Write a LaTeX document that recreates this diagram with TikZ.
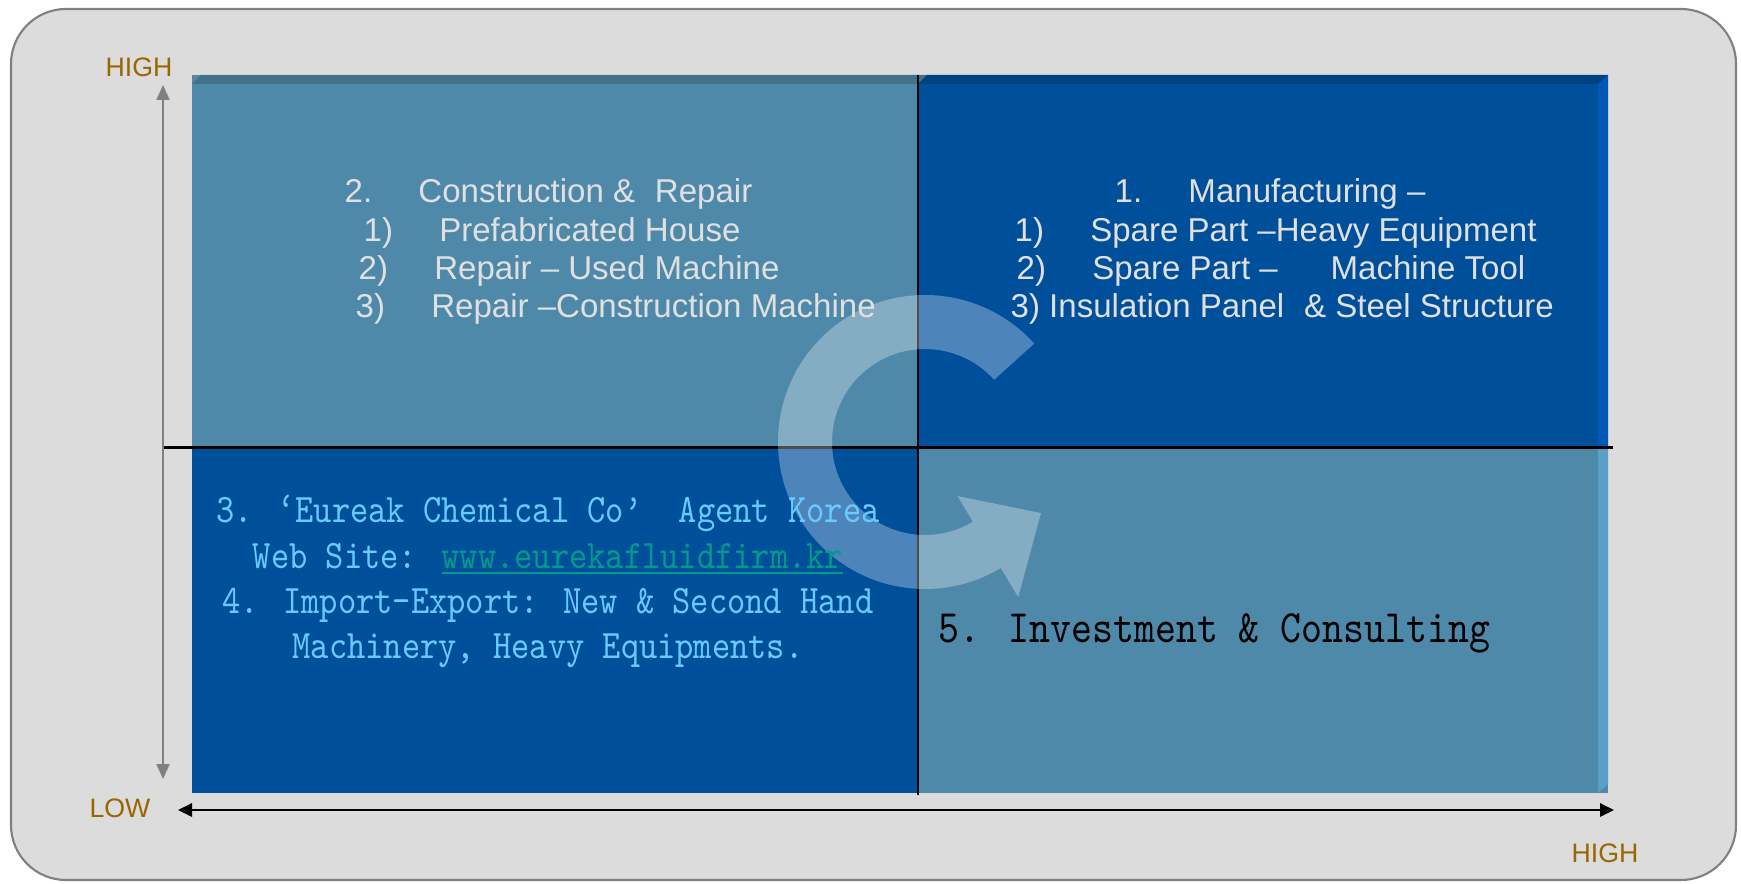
\documentclass[tikz,border=0pt]{standalone}
\usepackage{fontspec}
\usetikzlibrary{arrows.meta}
\newfontfamily\gulimfont{Liberation Sans}
\newfontfamily\gungfont[FakeStretch=0.86]{lmmono10-regular.otf}
\definecolor{frameGray}{HTML}{DCDCDC}
\definecolor{cellLight}{HTML}{4F89AA}
\definecolor{cellDark}{HTML}{004F9B}
\definecolor{bevelLight}{HTML}{43708B}
\definecolor{bevelDark}{HTML}{00417F}
\definecolor{sideDark}{HTML}{0058B5}
\definecolor{sideLight}{HTML}{5B9EC8}
\definecolor{axisBrown}{HTML}{996600}
\definecolor{menuGray}{HTML}{E0E0E0}
\definecolor{agentCyan}{HTML}{66CCFF}
\definecolor{linkTeal}{HTML}{009B8C}
\begin{document}
\begin{tikzpicture}[
    menutext/.style={anchor=base west, inner sep=0pt, text=menuGray, font=\gulimfont\fontsize{9.4}{11}\selectfont},
    agenttext/.style={anchor=base, inner sep=0pt, text=agentCyan, font=\gungfont\fontsize{11.5}{13}\selectfont},
    axislabel/.style={inner sep=0pt, text=axisBrown, font=\gulimfont\fontsize{7.6}{9}\selectfont}
]
    \useasboundingbox (0,0) rectangle (17.41,8.83);
    \draw[fill=frameGray, draw=gray, line width=0.6pt, rounded corners=0.55cm] (0.11,0.03) rectangle (17.36,8.74);

    % quadrants
    \fill[cellLight] (1.92,4.355) rectangle (9.18,8.08);
    \fill[cellDark] (9.18,4.355) rectangle (16.08,8.08);
    \fill[cellDark] (1.92,0.90) rectangle (9.18,4.355);
    \fill[cellLight] (9.18,0.90) rectangle (16.08,4.355);

    % bevels
    \fill[bevelLight] (1.92,7.99) -- (2.01,8.08) -- (9.27,8.08) -- (9.18,7.99) -- cycle;
    \fill[bevelDark] (9.18,7.99) -- (9.27,8.08) -- (16.08,8.08) -- (15.98,7.99) -- cycle;
    \fill[sideDark] (15.98,7.99) -- (16.08,8.08) -- (16.08,4.355) -- (15.98,4.355) -- cycle;
    \fill[sideLight] (15.98,4.355) -- (16.08,4.355) -- (16.08,0.99) -- (15.98,0.90) -- cycle;

    % dividers
    \coordinate (hl) at (1.63,4.355);
    \coordinate (hr) at (16.13,4.355);
    \coordinate (vt) at (9.18,8.08);
    \coordinate (vb) at (9.18,0.88);
    \draw[line width=0.6pt] (hl) -- (hr);
    \draw[line width=0.6pt] (vt) -- (vb);

    % axes
    \coordinate (ytop) at (1.63,7.98);
    \coordinate (ybot) at (1.63,1.04);
    \coordinate (xleft) at (1.78,0.73);
    \coordinate (xright) at (16.14,0.73);
    \draw[{Triangle[length=0.15cm,width=0.13cm]}-{Triangle[length=0.15cm,width=0.13cm]}, gray, line width=0.6pt] (ybot) -- (ytop);
    \draw[{Triangle[length=0.14cm,width=0.13cm]}-{Triangle[length=0.14cm,width=0.13cm]}, line width=0.85pt] (xleft) -- (xright);

    \node[axislabel] (yhigh) at (1.39,8.16) {HIGH};
    \node[axislabel] (xlow) at (1.20,0.75) {LOW};
    \node[axislabel] (xhigh) at (16.05,0.30) {HIGH};

    % cycle arrow
    \fill[white, opacity=0.3, shift={(9.25,4.41)}]
        (42:1.47) arc[start angle=42, end angle=301, radius=1.47]
        -- (301:1.81) -- (328.5:1.36) -- (301:0.63) -- (301:0.93)
        arc[start angle=301, end angle=42, radius=0.93] -- cycle;

    % top left
    \node[menutext] (cr0) at (3.44,6.80) {2.\hspace{1.4em}Construction \&\hspace{0.6em}Repair};
    \node[menutext] (cr1) at (3.63,6.41) {1)\hspace{1.4em}Prefabricated House};
    \node[menutext] (cr2) at (3.58,6.03) {2)\hspace{1.4em}Repair – Used Machine};
    \node[menutext] (cr3) at (3.55,5.65) {3)\hspace{1.4em}Repair –Construction Machine};

    % top right
    \node[menutext] (mf0) at (11.14,6.80) {1.\hspace{1.4em}Manufacturing –};
    \node[menutext] (mf1) at (10.14,6.41) {1)\hspace{1.4em}Spare Part –Heavy Equipment};
    \node[menutext] (mf2) at (10.16,6.03) {2)\hspace{1.4em}Spare Part –\hspace{1.6em}Machine Tool};
    \node[menutext] (mf3) at (10.10,5.65) {3) Insulation Panel\hspace{0.6em}\& Steel Structure};

    % bottom left
    \node[agenttext] (ag0) at (5.48,3.60) {3. ‘Eureak Chemical Co’\ \ Agent Korea};
    \node[agenttext] (ag1) at (5.48,3.15) {Web Site: \textcolor{linkTeal}{\underline{www.eurekafluidfirm.kr}}};
    \node[agenttext] (ag2) at (5.48,2.70) {4. Import-Export: New \& Second Hand};
    \node[agenttext] (ag3) at (5.48,2.25) {Machinery, Heavy Equipments.};

    % bottom right
    \node[anchor=base west, inner sep=0pt, font=\gungfont\fontsize{13.2}{15}\selectfont] (inv) at (9.38,2.41) {5. Investment \& Consulting};
\end{tikzpicture}
\end{document}
